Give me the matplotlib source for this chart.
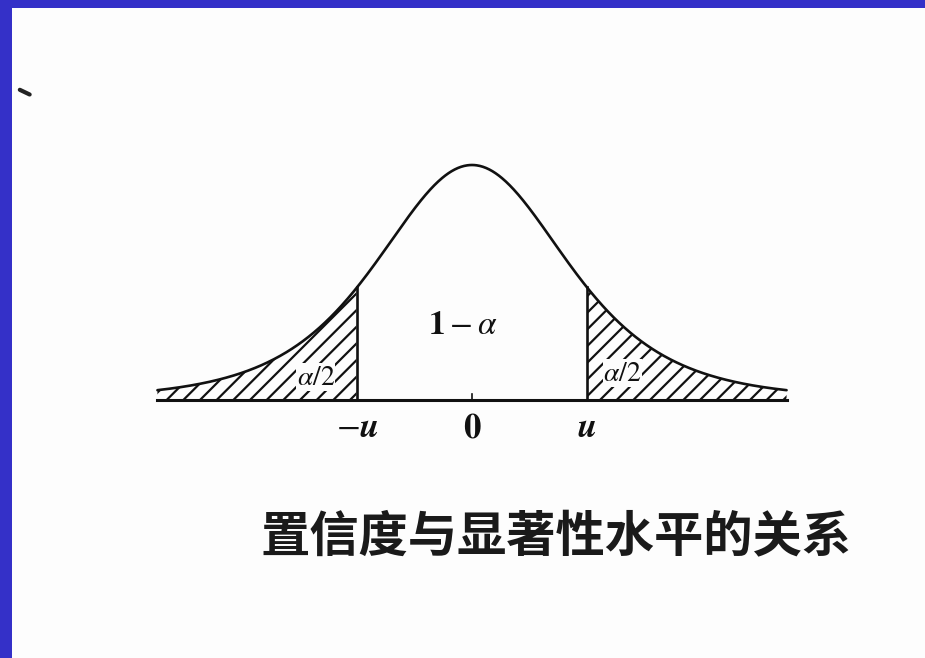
import numpy as np
import matplotlib
matplotlib.use('Agg')
import matplotlib.pyplot as plt
from matplotlib.patches import Rectangle

plt.rcParams['hatch.linewidth'] = 1.6
plt.rcParams['mathtext.fontset'] = 'stix'

# density shape (heavy tailed bell), critical value and labels
dof = 4.0
u = 1.17
z_lim = 3.2
tail_label = r'$\alpha/2$'
centre_label = r'$\mathbf{1}-\alpha$'
tick_labels = [r'$-\boldsymbol{u}$', r'$\mathbf{0}$', r'$\boldsymbol{u}$']
caption = '置信度与显著性水平的关系'


def density(z):
    return (1.0 + z ** 2 / dof) ** (-(dof + 1) / 2)


z = np.linspace(-z_lim, z_lim, 801)
f = density(z)

fig = plt.figure(figsize=(9.25, 6.58), dpi=100, facecolor='#3430C8')
fig.patches.append(Rectangle((12 / 925, 0), 1, 1 - 8 / 658,
                             transform=fig.transFigure,
                             facecolor='#fdfdfd', edgecolor='none',
                             zorder=-10))

ax = fig.add_axes([0, 0, 1, 1])
ax.set_zorder(5)
ax.set_facecolor('none')
ax.set_xlim(-472 / 98.3, (925 - 472) / 98.3)
ax.set_ylim(-(658 - 400) / 235, 400 / 235)
ax.axis('off')

# curve and baseline
ax.plot(z, f, color='#111111', lw=1.9, solid_capstyle='round')
ax.plot([-z_lim, z_lim], [0, 0], color='#111111', lw=2.2)

# hatched tails
for side in (-1, 1):
    m = side * z >= u
    ax.fill_between(z[m], 0, f[m], facecolor='none', edgecolor='#111111',
                    hatch='//', linewidth=0)
    ax.plot([side * u, side * u], [0, density(u)], color='#111111', lw=1.9)

# small tick at the centre
ax.plot([0, 0], [0, 0.025], color='#111111', lw=1.2)

# stray ink mark near the top left
ax.plot([-4.6, -4.5], [1.32, 1.30], color='#222222', lw=3,
        solid_capstyle='round')

# labels inside the figure
ax.text(-1.59, 0.098, tail_label, ha='center', va='center', fontsize=20,
        color='#111111',
        bbox=dict(facecolor='#fdfdfd', edgecolor='none', pad=0.2))
ax.text(1.53, 0.115, tail_label, ha='center', va='center', fontsize=20,
        color='#111111',
        bbox=dict(facecolor='#fdfdfd', edgecolor='none', pad=0.2))
ax.text(-0.09, 0.32, centre_label, ha='center', va='center', fontsize=24,
        color='#111111')

tick_pos = [-u, 0, u]
for pos, lab in zip(tick_pos, tick_labels):
    ax.text(pos, -0.115, lab, ha='center', va='center', fontsize=25,
            color='#111111')

fig.text(556 / 925, 1 - 537 / 658, caption, ha='center', va='center',
         fontsize=35.5, family=['Noto Sans CJK SC', 'DejaVu Sans'],
         weight='bold', color='#1a1a1a')

fig.savefig('out.png', dpi=100, facecolor=fig.get_facecolor())
